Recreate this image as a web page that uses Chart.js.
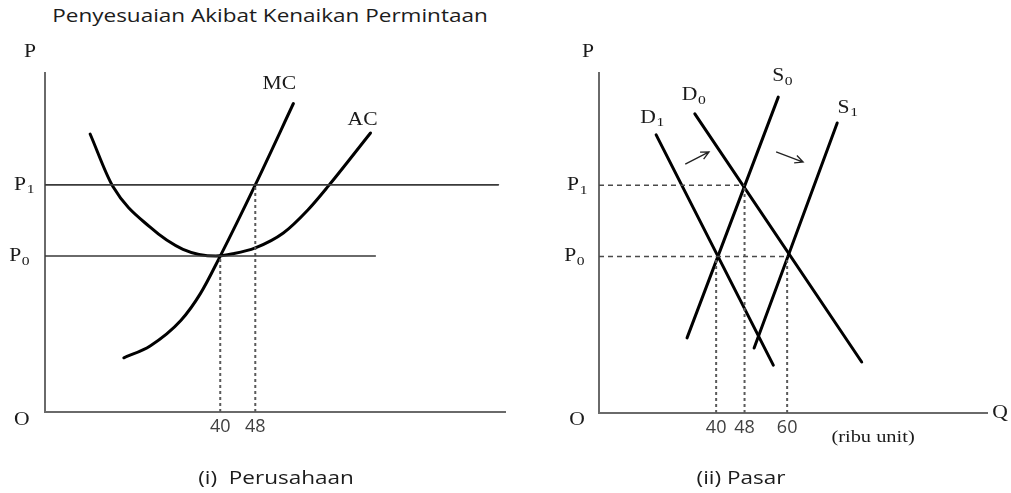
<!DOCTYPE html>
<html>
<head>
<meta charset="utf-8">
<script src="https://cdn.jsdelivr.net/npm/chart.js@4.4.0/dist/chart.umd.min.js"></script>
<style>
  body { margin: 0; background: #fff; width: 1011px; height: 493px; position: relative; overflow: hidden; }
  canvas { position: absolute; top: 0; }
  #firm { left: 0; }
  #market { left: 520px; }
  .txt { position: absolute; font-family: 'Open Sans', sans-serif; color: #1c1c1c; white-space: nowrap;
         transform: translateX(-50%) scaleX(1.25); }
</style>
</head>
<body>
<div class="txt" style="left:270px; top:3px; font-size:18px;">Penyesuaian Akibat Kenaikan Permintaan</div>
<canvas id="firm" width="520" height="493"></canvas>
<canvas id="market" width="491" height="493"></canvas>
<div class="txt" style="left:276px; top:465px; font-size:18px;">(i)&nbsp; Perusahaan</div>
<div class="txt" style="left:741px; top:465px; font-size:18px;">(ii) Pasar</div>
<script>
// harga
const p0 = 46;
const p1 = 67;

// (i) Perusahaan
const firmTicks = [40, 48];
const mcCurve = [[18, 16], [24, 19.5], [31, 27], [35.5, 35], [40, 46], [48, 67], [56.7, 91]];
const acCurve = [[10.3, 82], [15.5, 66.5], [24, 54.5], [31.5, 48], [39, 46], [43, 46.7], [48, 48.4],
                 [54.4, 52.8], [60, 59.6], [64.7, 66.7], [74.3, 82.3]];
const firmP1Line = [[0, p1], [103.5, p1]];
const firmP0Line = [[0, p0], [75.4, p0]];
const firmGuides = [[[40, 0], [40, p0]], [[48, 0], [48, p1]]];

// (ii) Pasar
const marketTicks = [40, 48, 60];
const d1Line = [[23.1, 81.8], [56.1, 14.1]];
const d0Line = [[34, 88], [81, 15]];
const s0Line = [[31.8, 22.1], [57.5, 92.9]];
const s1Line = [[50.7, 19.1], [74.1, 85.3]];
const marketHGuides = [[[7, p1], [48, p1]], [[7, p0], [60, p0]]];
const marketVGuides = [[[40, 0], [40, p0]], [[48, 0], [48, p1]], [[60, 0], [60, p0]]];
const shiftArrows = [[[31.3, 73.2], [38, 76.8]], [[56.9, 76.8], [64.5, 73.8]]];

const xy = pts => pts.map(([x, y]) => ({ x, y }));

function lineSet(pts, style) {
    return Object.assign({
        data: xy(pts), borderColor: '#000', borderWidth: 3, pointRadius: 0,
        fill: false, tension: 0, borderCapStyle: 'round'
    }, style);
}

function drawLabel(ctx, text, sub, x, y, size) {
    ctx.save();
    ctx.translate(x, y);
    ctx.scale(1.2, 1);
    ctx.font = size + 'px "Liberation Serif"';
    ctx.fillStyle = '#1a1a1a';
    ctx.textBaseline = 'middle';
    ctx.textAlign = 'center';
    ctx.fillText(text, 0, 0);
    if (sub) {
        const w = ctx.measureText(text).width;
        ctx.font = Math.round(size * 0.72) + 'px "Liberation Serif"';
        ctx.textAlign = 'left';
        ctx.fillText(sub, w / 2 + 0.5, size * 0.28);
    }
    ctx.restore();
}

function labelPlugin(labels, arrows) {
    return {
        id: 'labels',
        afterDraw(chart) {
            const ctx = chart.ctx;
            const xs = chart.scales.x, ys = chart.scales.y;
            labels.forEach(l => {
                drawLabel(ctx, l.text, l.sub, xs.getPixelForValue(l.x), ys.getPixelForValue(l.y), l.size || 18);
            });
            (arrows || []).forEach(([a, b]) => {
                const x1 = xs.getPixelForValue(a[0]), y1 = ys.getPixelForValue(a[1]);
                const x2 = xs.getPixelForValue(b[0]), y2 = ys.getPixelForValue(b[1]);
                const ang = Math.atan2(y2 - y1, x2 - x1);
                ctx.save();
                ctx.strokeStyle = '#222';
                ctx.lineWidth = 1.3;
                ctx.beginPath();
                ctx.moveTo(x1, y1);
                ctx.lineTo(x2, y2);
                ctx.moveTo(x2 - 9 * Math.cos(ang - 0.45), y2 - 9 * Math.sin(ang - 0.45));
                ctx.lineTo(x2, y2);
                ctx.lineTo(x2 - 9 * Math.cos(ang + 0.45), y2 - 9 * Math.sin(ang + 0.45));
                ctx.stroke();
                ctx.restore();
            });
        }
    };
}

function scalesFor(xMin, xMax, ticks, xHeight) {
    return {
        x: {
            type: 'linear', min: xMin, max: xMax,
            grid: { display: false, drawTicks: false },
            border: { display: true, color: '#6a6a6a', width: 2 },
            ticks: { color: '#404040', padding: 4, autoSkip: false, maxRotation: 0,
                     font: { family: 'Open Sans', size: 18 } },
            afterBuildTicks: axis => { axis.ticks = ticks.map(v => ({ value: v })); },
            afterFit: axis => { axis.height = xHeight; }
        },
        y: {
            type: 'linear', min: 0, max: 100,
            grid: { display: false, drawTicks: false },
            border: { display: true, color: '#6a6a6a', width: 2 },
            ticks: { display: false },
            afterFit: axis => { axis.width = 0; }
        }
    };
}

const baseOptions = (xMin, xMax, ticks, pad, xHeight) => ({
    responsive: false,
    animation: false,
    layout: { padding: pad },
    plugins: { legend: { display: false }, tooltip: { enabled: false } },
    scales: scalesFor(xMin, xMax, ticks, xHeight)
});

const dotted = { borderColor: '#5a5a5a', borderWidth: 2, borderDash: [3, 3], borderCapStyle: 'butt' };
const dashed = { borderColor: '#4a4a4a', borderWidth: 1.5, borderDash: [5, 4], borderCapStyle: 'butt' };

new Chart(document.getElementById('firm'), {
    type: 'line',
    data: {
        datasets: [
            lineSet(firmP1Line, { borderColor: '#3a3a3a', borderWidth: 1.6 }),
            lineSet(firmP0Line, { borderColor: '#3a3a3a', borderWidth: 1.6 }),
            ...firmGuides.map(g => lineSet(g, dotted)),
            lineSet(mcCurve, { cubicInterpolationMode: 'monotone' }),
            lineSet(acCurve, { cubicInterpolationMode: 'monotone' })
        ]
    },
    options: baseOptions(0, 105, firmTicks, { left: 45, top: 73, right: 15, bottom: 0 }, 81),
    plugins: [labelPlugin([
        { text: 'P', x: -3.4, y: 106 },
        { text: 'P', sub: '1', x: -5.7, y: p1 },
        { text: 'P', sub: '0', x: -6.8, y: p0 },
        { text: 'O', x: -5.3, y: -2.4 },
        { text: 'Q', x: 110.4, y: -0.9 },
        { text: 'MC', x: 53.5, y: 96.8 },
        { text: 'AC', x: 72.5, y: 86.1 }
    ])]
});

new Chart(document.getElementById('market'), {
    type: 'line',
    data: {
        datasets: [
            ...marketHGuides.map(g => lineSet(g, dashed)),
            ...marketVGuides.map(g => lineSet(g, dotted)),
            lineSet(d1Line),
            lineSet(d0Line),
            lineSet(s0Line),
            lineSet(s1Line)
        ]
    },
    options: baseOptions(7, 116.3, marketTicks, { left: 79, top: 73, right: 24, bottom: 0 }, 80),
    plugins: [labelPlugin([
        { text: 'P', x: 3.9, y: 106.2 },
        { text: 'P', sub: '1', x: -0.3, y: p1 },
        { text: 'P', sub: '0', x: -1.1, y: p0 },
        { text: 'O', x: 0.8, y: -2.1 },
        { text: 'Q', x: 120, y: 0 },
        { text: 'D', sub: '1', x: 20.8, y: 86.8 },
        { text: 'D', sub: '0', x: 32.5, y: 93.5 },
        { text: 'S', sub: '0', x: 57.5, y: 99 },
        { text: 'S', sub: '1', x: 75.9, y: 89.7 },
        { text: '(ribu unit)', x: 84.2, y: -7.1, size: 17 }
    ], shiftArrows)]
});
</script>
</body>
</html>
